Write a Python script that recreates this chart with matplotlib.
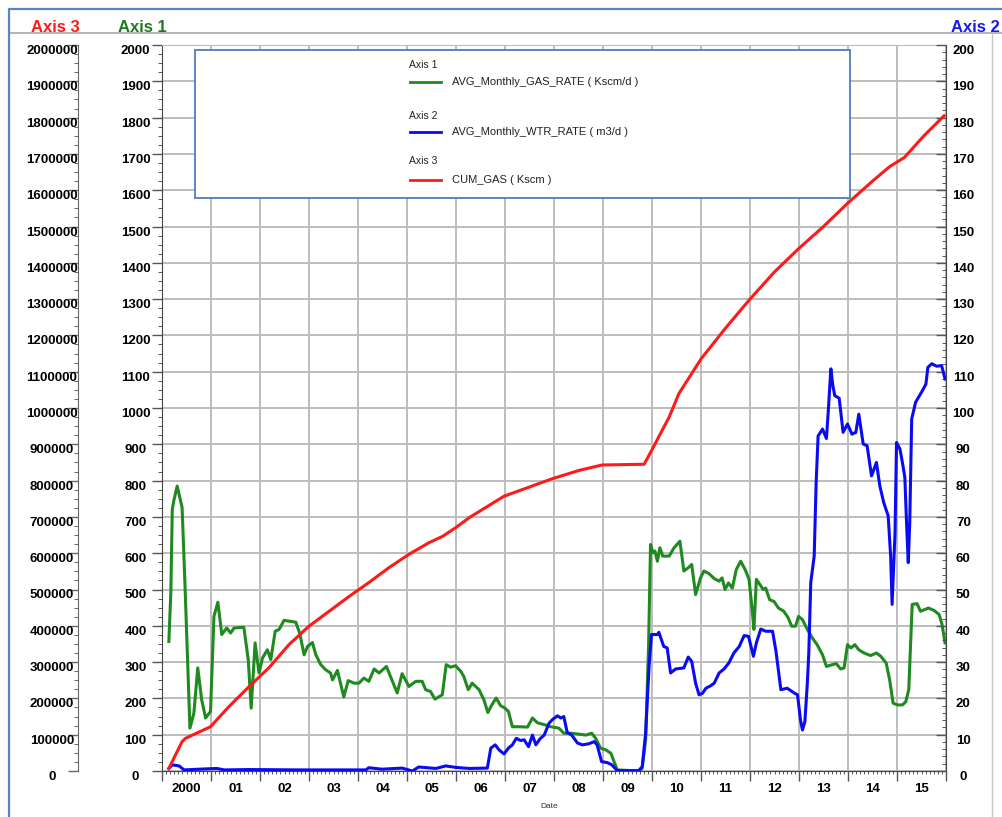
import matplotlib
matplotlib.use('Agg')
import matplotlib.pyplot as plt
from matplotlib.ticker import MultipleLocator, NullFormatter, StrMethodFormatter
from matplotlib.lines import Line2D
from matplotlib.patches import Rectangle

plt.rcParams['font.family'] = ['Liberation Sans', 'DejaVu Sans']
plt.rcParams['font.weight'] = 'bold'

# monthly gas rate, Kscm/d (decimal year, value)
gasYears = [
    2000.14, 2000.18, 2000.21, 2000.24, 2000.31, 2000.41, 2000.47, 2000.57, 2000.65, 2000.73,
    2000.81, 2000.89, 2000.99, 2001.06, 2001.14, 2001.22, 2001.32, 2001.40, 2001.47, 2001.67,
    2001.76, 2001.82, 2001.90, 2001.98, 2002.05, 2002.15, 2002.22, 2002.31, 2002.39, 2002.49,
    2002.73, 2002.81, 2002.90, 2002.97, 2003.07, 2003.14, 2003.24, 2003.34, 2003.44, 2003.48,
    2003.58, 2003.71, 2003.80, 2003.92, 2004.02, 2004.12, 2004.22, 2004.33, 2004.43, 2004.58,
    2004.80, 2004.90, 2005.04, 2005.18, 2005.31, 2005.38, 2005.48, 2005.57, 2005.72, 2005.80,
    2005.89, 2005.99, 2006.10, 2006.16, 2006.25, 2006.33, 2006.47, 2006.57, 2006.65, 2006.73,
    2006.82, 2006.91, 2007.00, 2007.07, 2007.15, 2007.29, 2007.46, 2007.56, 2007.66, 2007.82,
    2007.93, 2008.10, 2008.20, 2008.36, 2008.65, 2008.77, 2008.85, 2008.95, 2009.06, 2009.16,
    2009.29, 2009.73, 2009.80, 2009.87, 2009.93, 2009.97, 2010.02, 2010.06, 2010.11, 2010.16,
    2010.22, 2010.35, 2010.45, 2010.57, 2010.65, 2010.74, 2010.81, 2010.89, 2010.99, 2011.06,
    2011.16, 2011.27, 2011.37, 2011.43, 2011.49, 2011.56, 2011.64, 2011.72, 2011.81, 2011.90,
    2011.98, 2012.05, 2012.08, 2012.13, 2012.20, 2012.27, 2012.32, 2012.40, 2012.49, 2012.58,
    2012.69, 2012.78, 2012.85, 2012.93, 2012.99, 2013.07, 2013.17, 2013.27, 2013.37, 2013.48,
    2013.56, 2013.68, 2013.76, 2013.85, 2013.92, 2013.99, 2014.06, 2014.14, 2014.22, 2014.33,
    2014.46, 2014.58, 2014.67, 2014.78, 2014.85, 2014.92, 2015.01, 2015.11, 2015.18, 2015.24,
    2015.31, 2015.41, 2015.48, 2015.64, 2015.76, 2015.86, 2015.92, 2015.98,
]
gasRate = [
    357, 491, 721, 744, 785, 726, 509, 118, 159, 284,
    196, 146, 164, 426, 465, 376, 394, 380, 394, 396,
    307, 173, 353, 270, 311, 334, 307, 385, 390, 415,
    410, 380, 320, 343, 354, 320, 293, 279, 270, 251,
    277, 204, 249, 242, 242, 256, 247, 281, 270, 288,
    215, 268, 233, 247, 247, 224, 219, 198, 210, 293,
    286, 290, 274, 260, 224, 242, 224, 196, 161, 182,
    201, 180, 173, 164, 122, 122, 121, 146, 133, 127,
    122, 118, 104, 104, 99, 104, 90, 63, 58, 49,
    3, 0, 7, 86, 343, 624, 601, 606, 578, 615,
    592, 592, 615, 633, 551, 560, 569, 486, 532, 551,
    544, 530, 523, 532, 500, 518, 504, 555, 578, 555,
    528, 436, 390, 528, 514, 500, 504, 472, 467, 449,
    440, 422, 399, 399, 426, 417, 390, 367, 348, 320,
    288, 293, 296, 281, 284, 348, 339, 348, 334, 325,
    318, 325, 316, 297, 251, 187, 182, 182, 191, 224,
    459, 461, 440, 449, 442, 431, 403, 353,
]

# monthly water rate, m3/d
wtrYears = [
    2000.14, 2000.21, 2000.35, 2000.45, 2000.76, 2001.12, 2001.27, 2001.78, 2002.80, 2004.16,
    2004.22, 2004.49, 2004.90, 2005.11, 2005.24, 2005.59, 2005.79, 2005.99, 2006.27, 2006.64,
    2006.71, 2006.80, 2006.88, 2006.98, 2007.07, 2007.15, 2007.23, 2007.32, 2007.39, 2007.48,
    2007.56, 2007.63, 2007.71, 2007.80, 2007.90, 2007.98, 2008.07, 2008.14, 2008.20, 2008.27,
    2008.36, 2008.48, 2008.58, 2008.71, 2008.82, 2008.88, 2008.97, 2009.09, 2009.18, 2009.29,
    2009.73, 2009.80, 2009.87, 2009.94, 2009.99, 2010.11, 2010.14, 2010.24, 2010.31, 2010.38,
    2010.48, 2010.65, 2010.74, 2010.81, 2010.89, 2010.96, 2011.03, 2011.10, 2011.20, 2011.27,
    2011.37, 2011.47, 2011.57, 2011.67, 2011.78, 2011.88, 2011.97, 2012.07, 2012.13, 2012.22,
    2012.32, 2012.46, 2012.53, 2012.63, 2012.76, 2012.90, 2012.97, 2013.03, 2013.07, 2013.12,
    2013.17, 2013.20, 2013.24, 2013.31, 2013.35, 2013.39, 2013.48, 2013.56, 2013.60, 2013.65,
    2013.69, 2013.73, 2013.82, 2013.90, 2013.99, 2014.08, 2014.16, 2014.22, 2014.31, 2014.39,
    2014.48, 2014.58, 2014.65, 2014.73, 2014.82, 2014.87, 2014.90, 2014.96, 2014.99, 2015.06,
    2015.11, 2015.16, 2015.20, 2015.23, 2015.26, 2015.30, 2015.38, 2015.52, 2015.59, 2015.63,
    2015.71, 2015.81, 2015.91, 2015.98,
]
wtrRate = [
    0.7, 1.7, 1.4, 0.3, 0.5, 0.7, 0.3, 0.4, 0.3, 0.3,
    0.9, 0.5, 0.8, 0.0, 1.1, 0.7, 1.4, 1.0, 0.7, 0.8,
    6.3, 7.2, 5.8, 4.7, 6.3, 7.2, 9.0, 8.4, 8.6, 6.7,
    9.9, 7.2, 8.8, 9.9, 13.2, 14.3, 15.2, 14.6, 15.0, 10.6,
    9.9, 7.7, 7.2, 7.5, 8.1, 7.2, 2.6, 2.3, 1.7, 0.1,
    0.1, 1.2, 10.4, 28.8, 37.6, 37.6, 38.2, 34.3, 33.9, 27.0,
    28.1, 28.4, 31.4, 30.2, 24.2, 21.0, 21.4, 22.8, 23.5, 24.2,
    27.0, 28.1, 29.8, 32.5, 34.3, 37.3, 37.1, 31.6, 35.3, 39.1,
    38.5, 38.5, 33.0, 22.4, 22.8, 21.5, 21.0, 14.1, 11.3, 13.6,
    24.2, 32.5, 51.9, 59.2, 79.5, 92.3, 94.2, 91.6, 99.7, 110.8,
    106.2, 103.4, 102.7, 93.3, 95.6, 92.8, 93.3, 98.3, 90.1, 89.6,
    81.3, 85.0, 78.5, 73.9, 70.3, 59.2, 45.9, 65.7, 90.5, 88.7,
    85.0, 80.9, 66.6, 57.4, 68.4, 97.0, 101.6, 104.8, 106.6, 111.2,
    112.2, 111.5, 111.7, 108.0,
]

# cumulative gas, Kscm
cumYears = [
    2000.14, 2000.41, 2000.48, 2000.99, 2001.37, 2001.78, 2002.18, 2002.59, 2003.00, 2003.41,
    2003.82, 2004.22, 2004.63, 2005.04, 2005.45, 2005.72, 2005.99, 2006.27, 2006.98, 2007.96,
    2008.51, 2008.98, 2009.84, 2010.00, 2010.35, 2010.55, 2011.00, 2011.50, 2012.00, 2012.50,
    2013.00, 2013.50, 2014.00, 2014.50, 2014.85, 2015.15, 2015.55, 2015.96,
]
cumGas = [
    7000, 81000, 90000, 122000, 178000, 233000, 284000, 348000, 399000, 440000,
    481000, 519000, 560000, 597000, 629000, 646000, 670000, 698000, 757000, 805000,
    828000, 843000, 845000, 885000, 975000, 1040000, 1135000, 1220000, 1300000, 1375000,
    1440000, 1500000, 1565000, 1625000, 1665000, 1690000, 1750000, 1805000,
]

yearLabels = ['2000', '01', '02', '03', '04', '05', '06', '07',
              '08', '09', '10', '11', '12', '13', '14', '15']
axisNames = ['Axis 1', 'Axis 2', 'Axis 3']
seriesNames = ['AVG_Monthly_GAS_RATE ( Kscm/d )',
               'AVG_Monthly_WTR_RATE ( m3/d )',
               'CUM_GAS ( Kscm )']

W, H = 1003, 817
TICK_FS = 9.5


def fx(px):
    return px / W


def fy(px):
    return 1 - px / H


def centerLabels(axis):
    # labels centred on their anchor and hanging just under the tick
    for lbl in axis.get_yticklabels():
        lbl.set_horizontalalignment('center')
        lbl.set_verticalalignment('top')


fig = plt.figure(figsize=(W / 100, H / 100), dpi=100)
ax = fig.add_axes([fx(162), fy(771), fx(946) - fx(162), fy(45) - fy(771)])

gasLine, = ax.plot(gasYears, gasRate, color='#1f8a1f', lw=2.2, zorder=3)
ax.set_xlim(2000, 2016)
ax.set_ylim(0, 2000)
ax.xaxis.set_major_locator(MultipleLocator(1))
ax.xaxis.set_minor_locator(MultipleLocator(1 / 12))
ax.xaxis.set_major_formatter(NullFormatter())
ax.yaxis.set_major_locator(MultipleLocator(100))
ax.yaxis.set_minor_locator(MultipleLocator(25))
ax.grid(True, which='major', color='#bdbdbd', lw=1.4)
ax.set_axisbelow(True)
ax.tick_params(axis='x', which='major', length=7, width=1.0, color='#555555')
ax.tick_params(axis='x', which='minor', length=2.5, width=0.7, color='#555555')
ax.tick_params(axis='y', which='major', length=7, width=1.0, pad=12, labelsize=TICK_FS,
               color='#555555')
ax.tick_params(axis='y', which='minor', length=3, width=0.7, color='#555555')
ax.spines['top'].set_color('#bdbdbd')
ax.spines['right'].set_visible(False)
for s in ('left', 'bottom'):
    ax.spines[s].set_color('#444444')
centerLabels(ax)

# year names sit between the yearly gridlines
sec = ax.secondary_xaxis('bottom')
sec.set_xticks([2000.5 + i for i in range(len(yearLabels))], labels=yearLabels)
sec.tick_params(length=0, pad=9, labelsize=TICK_FS)
sec.spines['bottom'].set_visible(False)

ax2 = ax.twinx()
wtrLine, = ax2.plot(wtrYears, wtrRate, color='#0a0af5', lw=2.2)
ax2.set_ylim(0, 200)
ax2.yaxis.set_major_locator(MultipleLocator(10))
ax2.yaxis.set_minor_locator(MultipleLocator(2))
ax2.tick_params(axis='y', which='major', direction='in', length=7, width=1.0,
                pad=12.5, labelsize=TICK_FS, color='#555555')
ax2.tick_params(axis='y', which='minor', direction='in', length=3, width=0.7, color='#555555')
for s in ('left', 'top', 'bottom'):
    ax2.spines[s].set_visible(False)
ax2.spines['right'].set_color('#444444')
centerLabels(ax2)

ax3 = ax.twinx()
cumLine, = ax3.plot(cumYears, cumGas, color='#ff1a1a', lw=2.2)
ax3.set_ylim(0, 2000000)
ax3.spines['left'].set_position(('axes', -(162 - 78) / 784))
ax3.spines['left'].set_visible(True)
ax3.spines['left'].set_color('#666666')
for s in ('right', 'top', 'bottom'):
    ax3.spines[s].set_visible(False)
ax3.yaxis.tick_left()
ax3.yaxis.set_label_position('left')
ax3.yaxis.set_major_locator(MultipleLocator(100000))
ax3.yaxis.set_minor_locator(MultipleLocator(25000))
ax3.yaxis.set_major_formatter(StrMethodFormatter('{x:.0f}'))
ax3.tick_params(axis='y', which='major', length=7, width=1.0, pad=11.7,
                labelsize=TICK_FS, color='#666666')
ax3.tick_params(axis='y', which='minor', length=3, width=0.7, color='#666666')
centerLabels(ax3)

fig.text(fx(549), fy(806), 'Date', fontsize=6, fontweight='normal', ha='center', va='center',
         color='#333333')

# axis captions and header rule
fig.text(fx(55), fy(27), axisNames[2], color='#ff1a1a', fontsize=12, ha='center', va='center')
fig.text(fx(142), fy(27), axisNames[0], color='#1f7a1f', fontsize=12, ha='center', va='center')
fig.text(fx(975), fy(27), axisNames[1], color='#1a1ae6', fontsize=12, ha='center', va='center')
fig.add_artist(Line2D([fx(10), fx(1003)], [fy(33), fy(33)], transform=fig.transFigure,
                      color='#a8a8a8', lw=1.2))
fig.add_artist(Line2D([fx(992), fx(992)], [fy(33), fy(817)], transform=fig.transFigure,
                      color='#c8c8c8', lw=1.0))
fig.add_artist(Line2D([fx(9), fx(9), fx(1003)], [fy(817), fy(9), fy(9)],
                      transform=fig.transFigure, color='#5b84c0', lw=1.6))

# legend panel
box = Rectangle((fx(195), fy(198)), fx(850) - fx(195), fy(50) - fy(198),
                transform=fig.transFigure, facecolor='white', edgecolor='#4f7db5',
                lw=1.3, zorder=10)
fig.add_artist(box)
rows = [(65, 82), (116, 132), (161, 180)]
for (capY, lineY), name, label, line in zip(rows, axisNames, seriesNames,
                                             [gasLine, wtrLine, cumLine]):
    fig.text(fx(409), fy(capY), name, fontsize=7.5, fontweight='normal', color='#222222',
             ha='left', va='center', zorder=11)
    fig.add_artist(Line2D([fx(410), fx(441)], [fy(lineY), fy(lineY)],
                          transform=fig.transFigure, color=line.get_color(), lw=2.0, zorder=11))
    fig.text(fx(452), fy(lineY), label, fontsize=8, fontweight='normal', color='#222222',
             ha='left', va='center', zorder=11)

fig.savefig('out.png', dpi=100)
